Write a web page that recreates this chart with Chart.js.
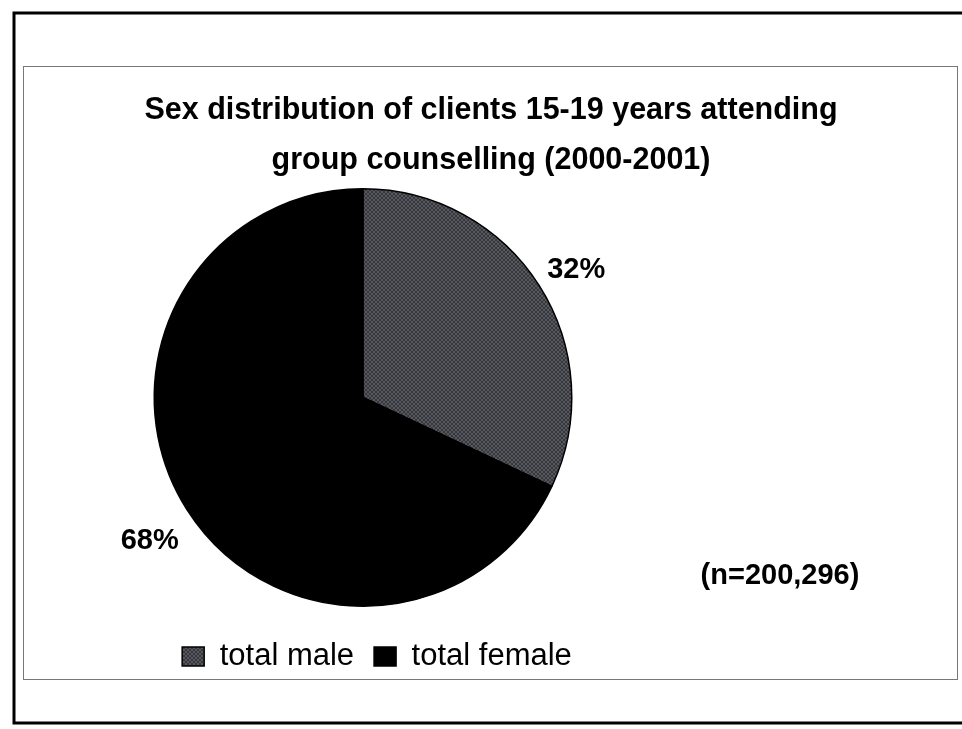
<!DOCTYPE html>
<html>
<head>
<meta charset="utf-8">
<title>Sex distribution of clients 15-19 years</title>
<script src="https://cdn.jsdelivr.net/npm/chart.js@4"></script>
<style>
  html, body { margin: 0; padding: 0; background: #fff; }
  #wrap { width: 962px; height: 729px; }
</style>
</head>
<body>
<div id="wrap"><canvas id="myChart" width="962" height="729"></canvas></div>
<script>
const categories = ['total male', 'total female'];
const shares = [32, 68];
const titleLines = ['Sex distribution of clients 15-19 years attending', 'group counselling (2000-2001)'];
const sampleNote = '(n=200,296)';

const FONT = '"Liberation Sans", Arial, sans-serif';

// fine cross-hatched grey used for the male slice
function hatchPattern() {
  const c = document.createElement('canvas');
  c.width = 4; c.height = 4;
  const g = c.getContext('2d');
  g.fillStyle = '#58585f';
  g.fillRect(0, 0, 4, 4);
  g.fillStyle = '#36363d';
  for (let i = 0; i < 4; i++) {
    g.fillRect(i, i, 1, 1);
    g.fillRect(3 - i, i, 1, 1);
  }
  return g.createPattern(c, 'repeat');
}
const maleFill = hatchPattern();

const framePlugin = {
  id: 'frame',
  afterLayout(chart) {
    // nudge the legend a little right of the pie centre
    chart.legend.left += 14;
    chart.legend.right += 14;
  },
  beforeDraw(chart) {
    const ctx = chart.ctx;
    ctx.save();
    ctx.fillStyle = '#fff';
    ctx.fillRect(0, 0, chart.width, chart.height);
    // outer page frame
    ctx.strokeStyle = '#000';
    ctx.lineWidth = 3;
    ctx.beginPath();
    ctx.moveTo(962, 13);
    ctx.lineTo(14, 13);
    ctx.lineTo(14, 723);
    ctx.lineTo(962, 723);
    ctx.stroke();
    // chart box
    ctx.strokeStyle = '#777';
    ctx.lineWidth = 1;
    ctx.strokeRect(23.5, 66.5, 934, 613);
    // title
    ctx.fillStyle = '#000';
    ctx.font = 'bold 30.5px ' + FONT;
    ctx.textAlign = 'center';
    ctx.textBaseline = 'middle';
    ctx.fillText(titleLines[0], 491, 111);
    ctx.fillText(titleLines[1], 491, 161);
    ctx.restore();
  },
  afterDraw(chart) {
    const ctx = chart.ctx;
    const meta = chart.getDatasetMeta(0);
    ctx.save();
    ctx.fillStyle = '#000';
    ctx.font = 'bold 29px ' + FONT;
    ctx.textAlign = 'center';
    ctx.textBaseline = 'middle';
    meta.data.forEach((arc, i) => {
      const mid = (arc.startAngle + arc.endAngle) / 2;
      const r = arc.outerRadius * 1.21;
      ctx.fillText(shares[i] + '%', arc.x + Math.cos(mid) * r, arc.y + Math.sin(mid) * r + 8);
    });
    ctx.fillText(sampleNote, 780, 576);
    ctx.restore();
  }
};

new Chart(document.getElementById('myChart'), {
  type: 'pie',
  data: {
    labels: categories,
    datasets: [{
      data: shares,
      backgroundColor: [maleFill, '#000'],
      borderColor: '#000',
      borderWidth: 1.5
    }]
  },
  options: {
    responsive: false,
    animation: false,
    layout: { padding: { top: 188, left: 22, right: 258, bottom: 47 } },
    plugins: {
      tooltip: { enabled: false },
      title: { display: false },
      legend: {
        position: 'bottom',
        title: { display: true, text: '', font: { size: 10 }, padding: { top: 2, bottom: 0 } },
        labels: {
          color: '#000',
          font: { family: FONT, size: 31 },
          boxWidth: 22,
          boxHeight: 19,
          padding: 20
        }
      }
    }
  },
  plugins: [framePlugin]
});
</script>
</body>
</html>
